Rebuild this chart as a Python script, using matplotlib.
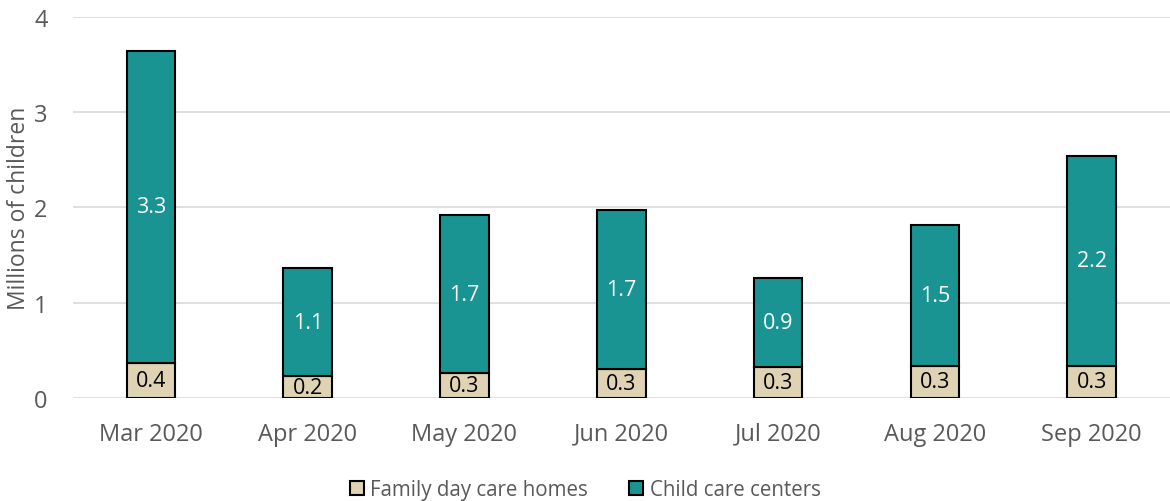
import numpy as np
import matplotlib
matplotlib.use("Agg")
import matplotlib.pyplot as plt

months = ["Mar 2020", "Apr 2020", "May 2020", "Jun 2020", "Jul 2020", "Aug 2020", "Sep 2020"]
family_homes = [0.37, 0.23, 0.26, 0.30, 0.33, 0.34, 0.34]
care_centers = [3.27, 1.13, 1.66, 1.67, 0.93, 1.47, 2.20]

plt.rcParams['font.family'] = ['Open Sans', 'DejaVu Sans']
grey = '#595959'
teal = '#199493'
beige = '#DFD3B4'

fig = plt.figure(figsize=(11.7, 5.02), dpi=100)
ax = fig.add_axes([0.062, 0.205, 0.938, 0.76])

x = np.arange(len(months))
w = 0.31
b1 = ax.bar(x, family_homes, w, color=beige, edgecolor='black', linewidth=1.5,
            label='Family day care homes', zorder=3)
b2 = ax.bar(x, care_centers, w, bottom=family_homes, color=teal, edgecolor='black',
            linewidth=1.5, label='Child care centers', zorder=3)

for i in range(len(months)):
    ax.text(x[i], family_homes[i] / 2, f"{family_homes[i]:.1f}", ha='center', va='center',
            fontsize=15.5, color='black', zorder=4)
    ax.text(x[i], family_homes[i] + care_centers[i] / 2, f"{care_centers[i]:.1f}",
            ha='center', va='center', fontsize=15.5, color='white', zorder=4)

ax.set_xlim(-0.5, len(months) - 0.5)
ax.set_ylim(0, 4)
ax.set_yticks([0, 1, 2, 3, 4])
ax.set_xticks(x)
ax.set_xticklabels(months)
ax.tick_params(axis='both', length=0, labelsize=17, colors=grey)
ax.tick_params(axis='x', pad=17)
ax.tick_params(axis='y', pad=18)
ax.grid(axis='y', color='#d9d9d9', linewidth=1.2, zorder=0)
for s in ax.spines.values():
    s.set_visible(False)
ax.set_ylabel('Millions of children', fontsize=16.5, color=grey, labelpad=2)

leg = fig.legend(handles=[b1, b2], loc='lower center', bbox_to_anchor=(0.5, -0.035), ncol=2,
                 frameon=False, fontsize=14.8, handlelength=0.7, handleheight=0.7,
                 handletextpad=0.3, columnspacing=2.0)
for t in leg.get_texts():
    t.set_color(grey)

fig.savefig('out.png', dpi=100)
